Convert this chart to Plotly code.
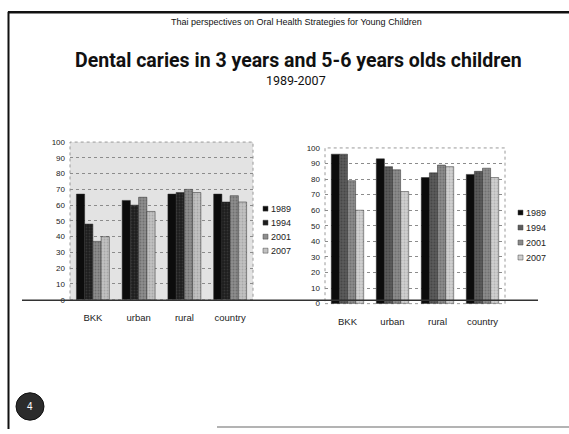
import plotly.graph_objects as go

W, H = 569, 434

# ---- data ---------------------------------------------------------------
regions = ["BKK", "urban", "rural", "country"]
years = ["1989", "1994", "2001", "2007"]

# caries prevalence (%) in 3-year-olds
age3_1989 = [67, 63, 67, 67]
age3_1994 = [48, 60, 68, 62]
age3_2001 = [37, 65, 70, 66]
age3_2007 = [40, 56, 68, 62]

# caries prevalence (%) in 5-6-year-olds
age56_1989 = [96, 93, 81, 83]
age56_1994 = [96, 88, 84, 85]
age56_2001 = [79, 86, 89, 87]
age56_2007 = [60, 72, 88, 81]

y_ticks = list(range(0, 101, 10))

header_text = "Thai perspectives on Oral Health Strategies for Young Children"
title_text = "Dental caries in 3 years and 5-6 years olds children"
subtitle_text = "1989-2007"
slide_number = "4"

# ---- helpers --------------------------------------------------------------
def px(x):
    return x / W


def py(y):
    return 1 - y / H


SANS = "Liberation Sans, Arial, sans-serif"
TITLE_FONT = "Roboto, Liberation Sans, sans-serif"

left_series = [age3_1989, age3_1994, age3_2001, age3_2007]
right_series = [age56_1989, age56_1994, age56_2001, age56_2007]

# (base colour, dither colour) per survey year
left_fill = [("#0c0c0c", None), ("#1c1c1c", "#505050"),
             ("#8e8e8e", "#4e4e4e"), ("#c2c2c2", "#8a8a8a")]
right_fill = [("#0c0c0c", None), ("#5c5c5c", "#2e2e2e"),
              ("#8a8a8a", "#555555"), ("#cfcfcf", "#9a9a9a")]


def bar_marker(base, dots):
    m = dict(color=base, line=dict(width=0.5, color="#2a2a2a"))
    if dots:
        m["pattern"] = dict(shape=".", fgcolor=dots, bgcolor=base,
                            size=3, solidity=0.35)
    return m


fig = go.Figure()

for yr, vals, (base, dots) in zip(years, left_series, left_fill):
    fig.add_trace(go.Bar(x=regions, y=vals, name=yr, xaxis="x", yaxis="y",
                         marker=bar_marker(base, dots), showlegend=False))

for yr, vals, (base, dots) in zip(years, right_series, right_fill):
    fig.add_trace(go.Bar(x=regions, y=vals, name=yr, xaxis="x2", yaxis="y2",
                         marker=bar_marker(base, dots), showlegend=False))

axis_font = dict(family=SANS, size=8, color="#222")
cat_font = dict(family=SANS, size=9.5, color="#222")

common_y = dict(range=[0, 100], tickvals=y_ticks, showgrid=True,
                griddash="dot", gridcolor="#8c8c8c", gridwidth=1,
                zeroline=False, showline=False, ticks="",
                tickfont=axis_font, ticklabelstandoff=4)
common_x = dict(showgrid=False, zeroline=False, showline=False, ticks="",
                tickfont=cat_font, ticklabelstandoff=11)

fig.update_layout(
    width=W, height=H,
    margin=dict(l=0, r=0, t=0, b=0),
    paper_bgcolor="white", plot_bgcolor="rgba(0,0,0,0)",
    barmode="group", bargap=0.28, bargroupgap=0,
    xaxis=dict(domain=[px(70), px(253)], anchor="y", **common_x),
    yaxis=dict(domain=[py(302), py(141)], anchor="x", **common_y),
    xaxis2=dict(domain=[px(325), px(505)], anchor="y2", **common_x),
    yaxis2=dict(domain=[py(306), py(147)], anchor="x2", **common_y),
)

shapes = []
# stippled grey panel behind the 3-year-old chart
shapes.append(dict(type="rect", xref="x domain", yref="y domain",
                   x0=0, x1=1, y0=0, y1=1, layer="below",
                   fillcolor="#e3e3e3", line=dict(width=0)))
# dotted frame of both plot areas
for xr, yr in (("x domain", "y domain"), ("x2 domain", "y2 domain")):
    shapes.append(dict(type="rect", xref=xr, yref=yr, x0=0, x1=1, y0=0, y1=1,
                       layer="below", line=dict(color="#9a9a9a", width=1, dash="dot")))
# baseline rule running under both charts
shapes.append(dict(type="line", xref="paper", yref="paper",
                   x0=px(22), x1=px(538), y0=py(302.5), y1=py(302.5),
                   line=dict(color="#333", width=1.6)))
# slide frame
shapes.append(dict(type="line", xref="paper", yref="paper",
                   x0=px(8), x1=1, y0=py(8.5), y1=py(8.5),
                   line=dict(color="#111", width=2.5)))
shapes.append(dict(type="line", xref="paper", yref="paper",
                   x0=px(8.5), x1=px(8.5), y0=py(8), y1=0,
                   line=dict(color="#111", width=2)))
shapes.append(dict(type="line", xref="paper", yref="paper",
                   x0=px(217), x1=1, y0=py(432), y1=py(432),
                   line=dict(color="#9a9a9a", width=1.5)))
# slide number badge
shapes.append(dict(type="circle", xref="paper", yref="paper",
                   x0=px(16), x1=px(44), y0=py(425), y1=py(397),
                   fillcolor="#2c2c2c", line=dict(color="#111", width=1)))


def text_note(text, x, y, size, family=SANS, color="#111", xanchor="center"):
    return dict(text=text, x=px(x), y=py(y), xref="paper", yref="paper",
                xanchor=xanchor, yanchor="middle", showarrow=False,
                font=dict(family=family, size=size, color=color))


annotations = [
    text_note(header_text, 296, 18, 9),
    text_note(f"<b>{title_text}</b>", 298, 58, 19.5, family=TITLE_FONT),
    text_note(subtitle_text, 296, 78, 12.5, family=TITLE_FONT),
    text_note(slide_number, 30, 411, 10, color="white"),
]


# legends: small swatch followed by the survey year
def add_legend(fills, x_sw, y0, step):
    for i, (yr, (base, dots)) in enumerate(zip(years, fills)):
        yc = y0 + i * step
        shapes.append(dict(type="rect", xref="paper", yref="paper",
                           x0=px(x_sw), x1=px(x_sw + 5),
                           y0=py(yc + 2.5), y1=py(yc - 2.5),
                           fillcolor=base, line=dict(color="#444", width=0.5)))
        annotations.append(text_note(yr, x_sw + 6, yc, 9, color="#222",
                                     xanchor="left"))


add_legend(left_fill, 263, 209, 14.3)
add_legend(right_fill, 518, 213, 15.3)

fig.update_layout(shapes=shapes, annotations=annotations)

fig.write_html("out.html")
